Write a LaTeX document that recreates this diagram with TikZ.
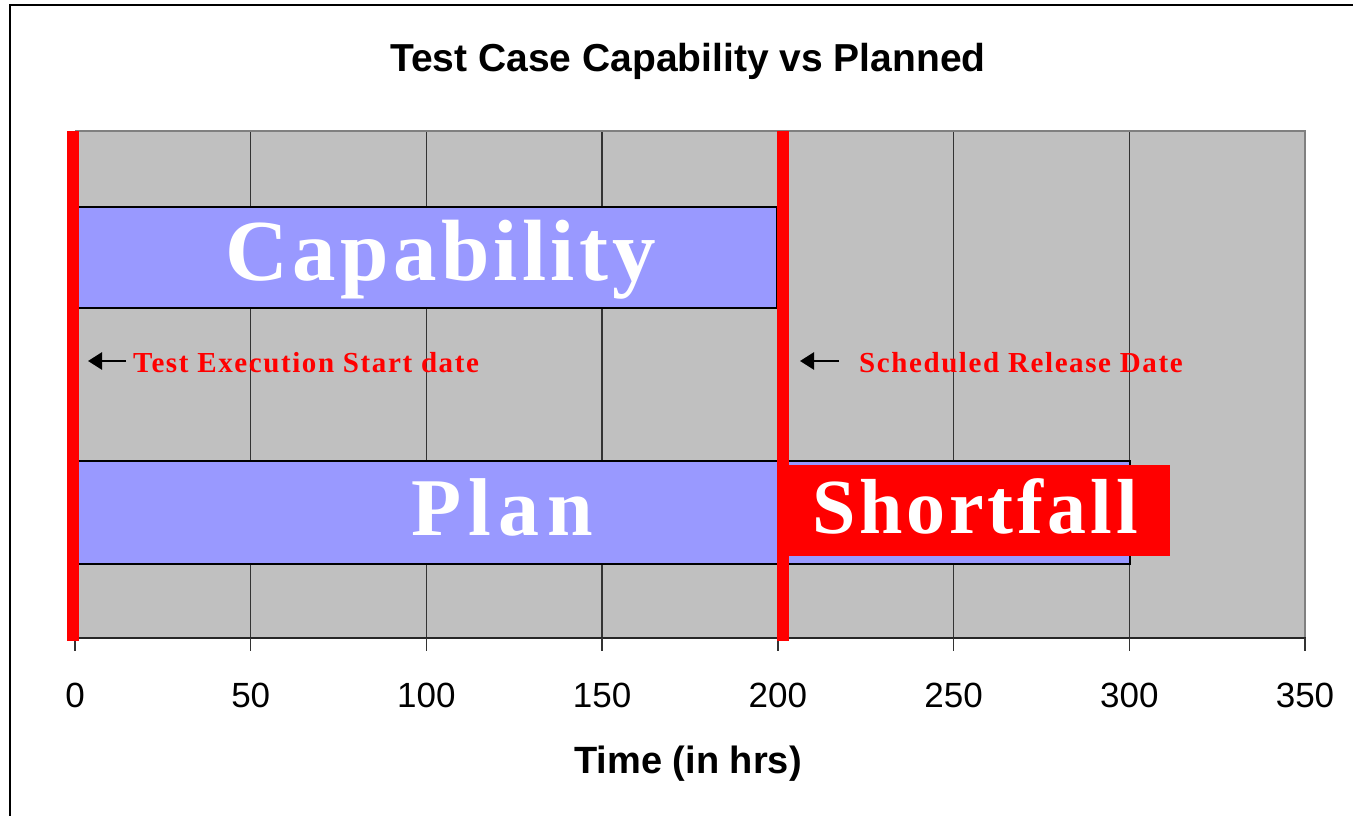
\documentclass[tikz,border=0pt]{standalone}
\usepackage{fontspec}
\setmainfont{Liberation Serif}
\setsansfont{Liberation Sans}
\newfontfamily\spacedserif{Liberation Serif}[LetterSpace=5]
\newfontfamily\notefont{Liberation Serif}[LetterSpace=5.5]
\newfontfamily\wideserif{Liberation Serif}[LetterSpace=9]
\usetikzlibrary{arrows.meta}
\definecolor{plotgray}{HTML}{C0C0C0}
\definecolor{framegray}{HTML}{808080}
\definecolor{barblue}{HTML}{9999FF}
\definecolor{markred}{HTML}{FF0000}
\tikzset{
  grid line/.style={draw=black!80, line width=1.4pt},
  bar/.style={fill=barblue, draw=black, line width=2pt},
  marker/.style={fill=markred, draw=none},
  bigword/.style={text=white, anchor=base, inner sep=0pt,
    font=\spacedserif\bfseries\fontsize{#1}{#1}\selectfont},
  note/.style={text=markred, anchor=base west, inner sep=0pt,
    font=\notefont\bfseries\fontsize{29}{29}\selectfont},
  pointer/.style={-{Triangle[length=14pt,width=17pt]}, line width=2.6pt, black},
  ticklabel/.style={anchor=base, inner sep=0pt,
    font=\sffamily\fontsize{35}{35}\selectfont},
  heading/.style={anchor=base, inner sep=0pt,
    font=\sffamily\bfseries\fontsize{39}{39}\selectfont}
}
% horizontal position of an hour value on the time axis
\def\hx#1{75+#1*3.51429}
\begin{document}
\begin{tikzpicture}[x=1pt, y=-1pt]
  \useasboundingbox (0,0) rectangle (1353,816);
  \fill[white] (0,0) rectangle (1353,816);
  % chart frame, cut by the page edge at right and bottom
  \draw[black, line width=2pt] (10,830) -- (10,5) -- (1370,5);

  % title
  \node[heading] (title) at (688,72) {Test Case Capability vs Planned};

  % plot area with vertical grid lines every 50 hrs
  \fill[plotgray] (75,131) rectangle (1305,638);
  \foreach \v in {50,100,...,300} {
    \draw[grid line] ({\hx{\v}},131) -- ({\hx{\v}},638);
  }
  \draw[framegray, line width=2.5pt] (75,131) -- (1305,131) -- (1305,638);
  \draw[black!85, line width=2pt] (75,638) -- (1306,638);
  \foreach \v in {0,50,...,350} {
    \draw[black!80, line width=1.4pt] ({\hx{\v}},638) -- ({\hx{\v}},651);
    \node[ticklabel] (tick\v) at ({\hx{\v}},707) {\v};
  }
  \node[heading, font=\sffamily\bfseries\fontsize{38}{38}\selectfont] (xlabel) at (688,773) {Time (in hrs)};

  % bars
  \draw[bar] (75,207) rectangle (777,308);
  \node[bigword=87] (capability) at (441,280) {Capability};
  \draw[bar] (75,461) rectangle (1130,564);
  \node[bigword=82, font=\wideserif\bfseries\fontsize{82}{82}\selectfont] (plan) at (502,535) {Plan};
  \fill[markred] (777,465) rectangle (1170,556);
  \node[bigword=78] (shortfall) at (975,533) {Shortfall};

  % start and release date markers
  \fill[marker] (67,131) rectangle (79,641);
  \fill[marker] (777,131) rectangle (789,641);

  % marker notes with pointers
  \node[note] (startnote) at (133,372) {Test Execution Start date};
  \coordinate (starttail) at (126,361);
  \coordinate (starthead) at (88,361);
  \draw[pointer] (starttail) -- (starthead);
  \node[note] (releasenote) at (859,372) {Scheduled Release Date};
  \coordinate (releasetail) at (839,361);
  \coordinate (releasehead) at (800,361);
  \draw[pointer] (releasetail) -- (releasehead);
\end{tikzpicture}
\end{document}
